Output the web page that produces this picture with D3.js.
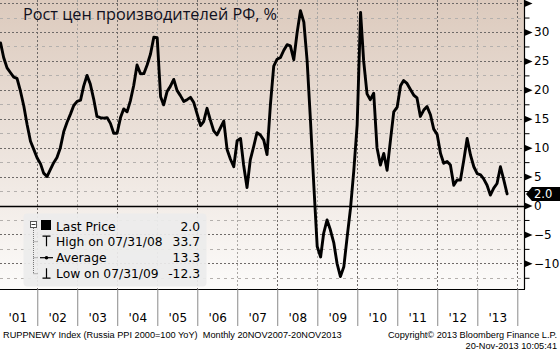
<!DOCTYPE html>
<html><head><meta charset="utf-8">
<script src="https://cdn.jsdelivr.net/npm/d3@7/dist/d3.min.js"></script>
<style>
html,body{margin:0;padding:0;background:#fff;}
svg{display:block;}
text{font-family:"DejaVu Sans",sans-serif;}
</style></head>
<body>
<svg id="c" width="560" height="351"></svg>
<script>
// ---- data (monthly, Jan 2001 .. Sep 2013, % YoY) ----
const startYear = 2001;
const ppi2001 = [28.1, 25.6, 23.8, 23.0, 22.2, 22.0, 19.8, 17.2, 14.0, 11.1, 9.7, 8.2];
const ppi2002 = [7.2, 5.6, 5.0, 6.2, 7.4, 8.3, 10.0, 12.8, 14.4, 15.8, 17.3, 18.0];
const ppi2003 = [18.2, 20.6, 22.5, 21.0, 18.4, 15.4, 15.2, 15.1, 15.2, 14.2, 12.5, 12.5];
const ppi2004 = [15.2, 16.7, 16.2, 18.1, 20.8, 24.3, 22.8, 22.8, 24.3, 26.2, 29.1, 29.0];
const ppi2005 = [18.8, 17.4, 19.7, 20.6, 21.8, 19.9, 19.0, 18.0, 18.3, 18.7, 17.8, 15.8];
const ppi2006 = [13.8, 14.5, 16.8, 14.8, 12.9, 12.2, 13.4, 14.6, 9.7, 8.0, 6.7, 11.2];
const ppi2007 = [11.6, 7.0, 3.1, 7.9, 10.2, 12.6, 12.2, 11.3, 8.8, 17.5, 24.1, 25.3];
const ppi2008 = [25.6, 26.8, 27.8, 27.6, 25.2, 29.8, 33.7, 31.7, 25.0, 14.5, 3.5, -7.1];
const ppi2009 = [-8.9, -4.8, -2.5, -4.2, -6.4, -10.0, -12.3, -10.6, -5.5, -0.5, 6.0, 14.0];
const ppi2010 = [33.4, 25.0, 19.3, 18.3, 19.4, 10.0, 7.0, 9.0, 6.1, 11.3, 16.2, 17.0];
const ppi2011 = [20.7, 21.6, 21.1, 20.1, 19.1, 18.6, 15.4, 16.5, 17.1, 15.7, 13.2, 12.3];
const ppi2012 = [9.0, 7.3, 7.6, 7.0, 3.5, 4.4, 4.4, 7.9, 11.6, 8.7, 6.7, 5.5];
const ppi2013 = [5.3, 4.6, 3.5, 1.8, 3.0, 3.8, 6.7, 4.4, 2.0];

const yearLabels = ["'01","'02","'03","'04","'05","'06","'07","'08","'09","'10","'11","'12","'13"];
const yMajor = [-10, -5, 0, 5, 10, 15, 20, 25, 30, 35];
const yLabelVals = [-10, -5, 0, 5, 10, 15, 20, 25, 30];
const legendLabels = ["Last Price", "High on 07/31/08", "Average", "Low on 07/31/09"];
const legendValues = ["2.0", "33.7", "13.3", "-12.3"];
const lastPrice = "2.0";
const title = "Рост цен производителей РФ, %";
const footLeft = "RUPPNEWY Index (Russia PPI 2000=100 YoY)  Monthly 20NOV2007-20NOV2013";
const footRight1 = "Copyright\u00A9 2013 Bloomberg Finance L.P.";
const footRight2 = "20-Nov-2013 10:05:41";

const allVals = [].concat(ppi2001, ppi2002, ppi2003, ppi2004, ppi2005, ppi2006, ppi2007,
  ppi2008, ppi2009, ppi2010, ppi2011, ppi2012, ppi2013);
const series = allVals.map((v, i) => ({date: new Date(Date.UTC(startYear, i + 1, 0)), v}));

// ---- layout ----
const svg = d3.select("#c");
const plotL = 0, plotR = 524, plotT = 0, plotB = 289;

const x = d3.scaleUtc()
  .domain([new Date(Date.UTC(2001,0,1)), new Date(Date.UTC(2014,0,1))])
  .range([-2.7, 517.3]);
const y = d3.scaleLinear().domain([0, 30]).range([205.5, 32]);

// background gradient
const defs = svg.append("defs");
const grad = defs.append("linearGradient").attr("id","bg").attr("x1",0).attr("y1",0).attr("x2",0).attr("y2",1);
grad.append("stop").attr("offset","0%").attr("stop-color","#dccabd");
grad.append("stop").attr("offset","100%").attr("stop-color","#fcfbfa");
svg.append("rect").attr("x",plotL).attr("y",plotT).attr("width",plotR-plotL).attr("height",plotB-plotT)
  .attr("fill","url(#bg)");

// horizontal grid
const minorVals = d3.range(-12.5, 35, 5);
svg.append("g").selectAll("line").data(minorVals).join("line")
  .attr("x1",plotL).attr("x2",plotR).attr("y1",d=>Math.round(y(d))+0.5).attr("y2",d=>Math.round(y(d))+0.5)
  .attr("stroke","#b4b0ad").attr("stroke-dasharray","3,4").attr("stroke-width",1);
svg.append("g").selectAll("line").data(yMajor.filter(d=>d!==0)).join("line")
  .attr("x1",plotL).attr("x2",plotR).attr("y1",d=>Math.round(y(d))+0.5).attr("y2",d=>Math.round(y(d))+0.5)
  .attr("stroke","#6e6a68").attr("stroke-dasharray","2,2").attr("stroke-width",1);

// vertical grid (year boundaries)
const years = d3.range(2002, 2015).map(yr => new Date(Date.UTC(yr,0,1)));
svg.append("g").selectAll("line").data(years).join("line")
  .attr("x1",d=>Math.round(x(d))+0.5).attr("x2",d=>Math.round(x(d))+0.5)
  .attr("y1",plotT).attr("y2",plotB)
  .attr("stroke",d=>d.getUTCFullYear()%2===0 ? "#6e6a68" : "#a9a6a3")
  .attr("stroke-dasharray","2,2").attr("stroke-width",1);

// zero line
svg.append("line").attr("x1",plotL).attr("x2",plotR).attr("y1",Math.round(y(0))+0.5).attr("y2",Math.round(y(0))+0.5)
  .attr("stroke","#000").attr("stroke-width",1.3);

// ---- legend ----
const lg = svg.append("g");
lg.append("rect").attr("x",23.5).attr("y",213.5).attr("width",183).attr("height",73).attr("rx",4)
  .attr("fill","#ececec").attr("fill-opacity",0.93);
const rowY = [230.5, 246.2, 262.2, 278.2];
// tree
lg.append("rect").attr("x",30.5).attr("y",221.5).attr("width",6).attr("height",6).attr("fill","#fff").attr("stroke","#555");
lg.append("line").attr("x1",31.5).attr("x2",35.5).attr("y1",224.5).attr("y2",224.5).attr("stroke","#333");
lg.append("line").attr("x1",33.5).attr("x2",33.5).attr("y1",228).attr("y2",rowY[3]-4.5).attr("stroke","#777").attr("stroke-dasharray","1,1");
[1,2,3].forEach(i=>{
  lg.append("line").attr("x1",33.5).attr("x2",38).attr("y1",rowY[i]-4.5).attr("y2",rowY[i]-4.5).attr("stroke","#777").attr("stroke-dasharray","1,1");
});
// icons
lg.append("rect").attr("x",41).attr("y",rowY[0]-10.5).attr("width",10).attr("height",10).attr("fill","#000");
lg.append("path").attr("d",`M42.5,${rowY[1]-10}H50.5M46.5,${rowY[1]-10}V${rowY[1]}`).attr("stroke","#000").attr("stroke-width",1.2).attr("fill","none");
lg.append("path").attr("d",`M40,${rowY[2]-4.5}H53`).attr("stroke","#000").attr("stroke-width",1.2);
lg.append("circle").attr("cx",46.5).attr("cy",rowY[2]-4.5).attr("r",1.8).attr("fill","#000");
lg.append("path").attr("d",`M42.5,${rowY[3]}H50.5M46.5,${rowY[3]}V${rowY[3]-10}`).attr("stroke","#000").attr("stroke-width",1.2).attr("fill","none");
lg.selectAll("text.lab").data(legendLabels).join("text").attr("class","lab")
  .attr("x",56).attr("y",(d,i)=>rowY[i]).attr("font-size","12.3px").attr("fill","#000").text(d=>d);
lg.selectAll("text.val").data(legendValues).join("text").attr("class","val")
  .attr("x",200).attr("y",(d,i)=>rowY[i]).attr("text-anchor","end").attr("font-size","12.3px").attr("fill","#000").text(d=>d);

// ---- line ----
const line = d3.line().x(d=>x(d.date)).y(d=>y(d.v));
svg.append("path").datum(series).attr("d",line).attr("fill","none")
  .attr("stroke","#000").attr("stroke-width",2.9).attr("stroke-linejoin","round").attr("stroke-linecap","round");

// ---- title ----
svg.append("text").attr("x",23).attr("y",20)
  .attr("font-size","15.5px").attr("fill","#101020").attr("textLength",254).attr("lengthAdjust","spacingAndGlyphs")
  .style("font-family","'Open Sans',sans-serif").text(title);

// ---- right axis ----
const yAxisMinor = d3.axisRight(y).tickValues(minorVals).tickSize(5).tickFormat("");
const gym = svg.append("g").attr("transform",`translate(${plotR+0.5},0)`).call(yAxisMinor);
gym.select(".domain").remove();
gym.selectAll(".tick line").attr("stroke","#000");

const yAxis = d3.axisRight(y).tickValues(yMajor).tickSize(0).tickPadding(9.5)
  .tickFormat(d => yLabelVals.includes(d) ? d3.format("d")(d).replace("-", "\u2212") : "");
const gy = svg.append("g").attr("transform",`translate(${plotR+0.5},0)`).call(yAxis);
gy.select(".domain").attr("d",`M0,${plotT}V${plotB}`).attr("stroke","#000").attr("stroke-width",1.2);
gy.selectAll(".tick").append("path").attr("d","M0,-3.5L8,0L0,3.5Z").attr("fill","#000");
gy.selectAll(".tick text").attr("font-size","12px").attr("fill","#000").attr("font-family","'DejaVu Sans',sans-serif");

// last price tag
const lpY = y(+lastPrice);
svg.append("path").attr("d",`M526,${lpY}L532,${lpY-7}H560V${lpY+7}H532Z`).attr("fill","#000");
svg.append("text").attr("x",534).attr("y",lpY+4.3).attr("font-size","11.5px").attr("fill","#fff").text(lastPrice);

// ---- bottom axis ----
svg.append("line").attr("x1",0).attr("x2",plotR+1).attr("y1",plotB+0.5).attr("y2",plotB+0.5).attr("stroke","#000").attr("stroke-width",1.2);
const xAxisSep = d3.axisBottom(x).tickValues(years).tickSize(37).tickFormat("");
const gx = svg.append("g").attr("transform",`translate(0,${plotB})`).call(xAxisSep);
gx.select(".domain").remove();
gx.selectAll(".tick line").attr("stroke","#8a8a8a");
const midYears = d3.range(2001, 2014).map(yr => new Date(Date.UTC(yr,6,2)));
const xAxisLab = d3.axisBottom(x).tickValues(midYears).tickSize(0).tickPadding(0)
  .tickFormat((d,i)=>yearLabels[i]);
const gxl = svg.append("g").attr("transform",`translate(0,${plotB})`).call(xAxisLab);
gxl.select(".domain").remove();
gxl.selectAll(".tick text").attr("dy",null).attr("y",33).attr("font-size","12px").attr("fill","#000");

// ---- footer ----
const foot = svg.append("g").style("font-family","'Liberation Sans',Arial,sans-serif").attr("font-size","9.2px").attr("fill","#000");
foot.append("text").attr("x",3).attr("y",338).style("white-space","pre")
  .style("font-family","'Liberation Sans',Arial,sans-serif").text(footLeft);
foot.append("text").attr("x",557).attr("y",338).attr("text-anchor","end")
  .style("font-family","'Liberation Sans',Arial,sans-serif").text(footRight1);
foot.append("text").attr("x",557).attr("y",348.5).attr("text-anchor","end")
  .style("font-family","'Liberation Sans',Arial,sans-serif").text(footRight2);
</script>
</body></html>
